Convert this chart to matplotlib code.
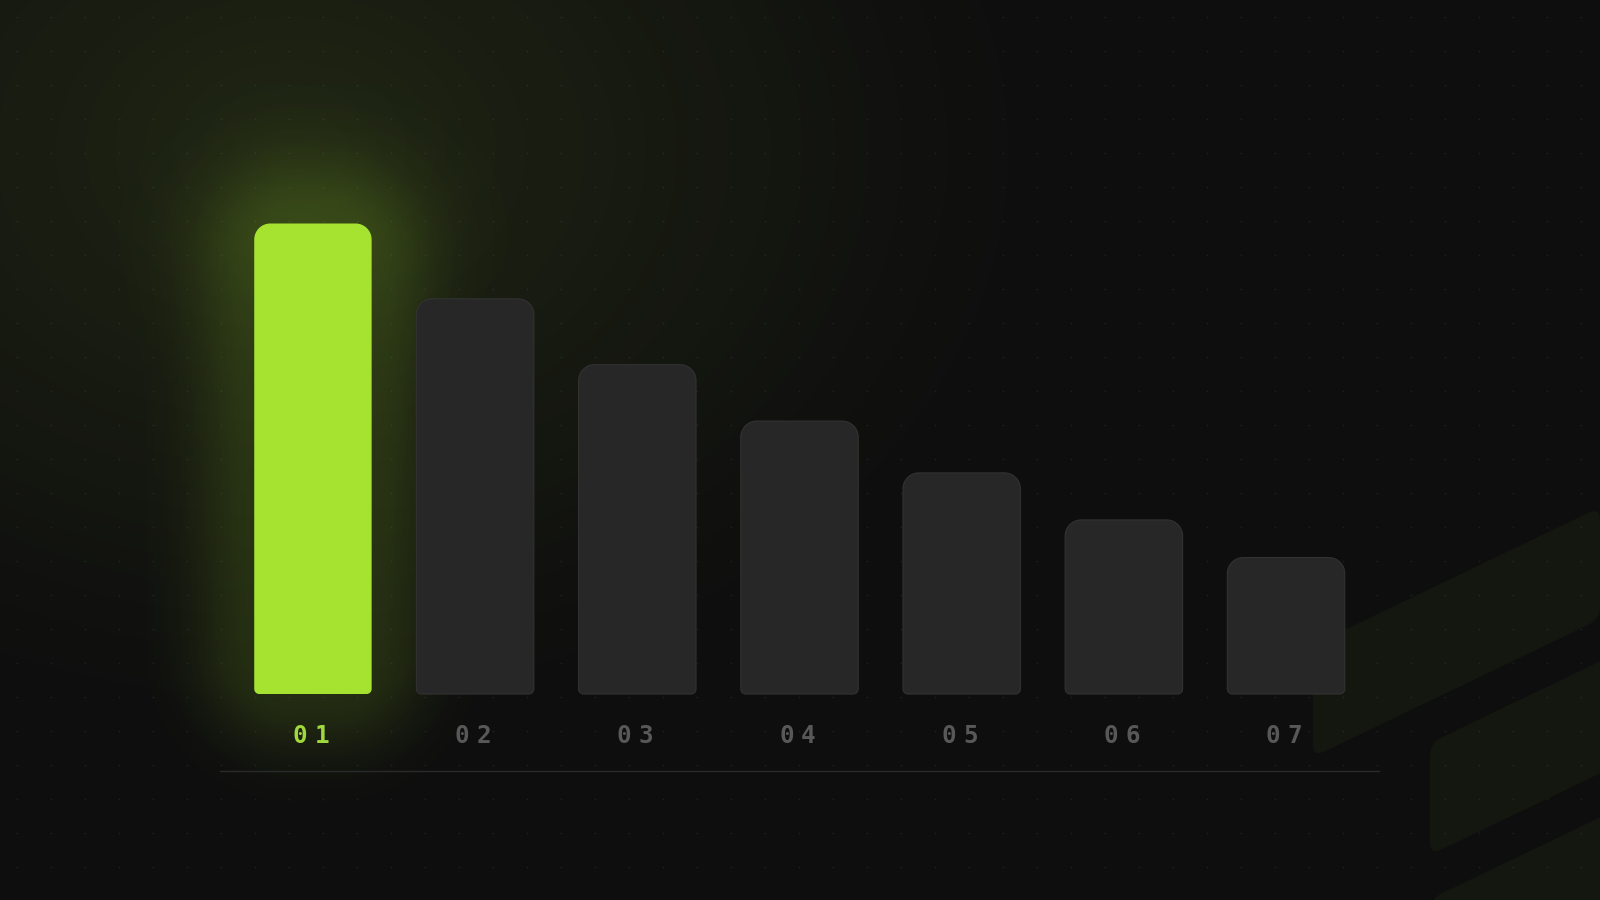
import numpy as np
import matplotlib
matplotlib.use('Agg')
import matplotlib.pyplot as plt
from matplotlib.path import Path
from matplotlib.patches import PathPatch, FancyBboxPatch
from matplotlib.transforms import Affine2D
from matplotlib.colors import to_rgb

# data
labels = ['01', '02', '03', '04', '05', '06', '07']
values = [100, 84, 70, 58, 47, 37, 29]
highlight = 0

# colours
BG = np.array([14, 14, 14])
LIME = '#a6e331'
GLOW = '#94cf2a'
LIME_TXT = '#a0d93c'
BAR_GREY = '#272727'
BAR_EDGE = '#323232'
LABEL_GREY = '#585858'
STRIPE = '#14170f'

W, H = 1600, 900
fig = plt.figure(figsize=(16, 9), dpi=100)

# ---- background: ambient green glow, stripes, dot grid
bg = fig.add_axes([0, 0, 1, 1])
bg.set_xlim(0, W)
bg.set_ylim(H, 0)
bg.axis('off')

yy, xx = np.mgrid[0:H, 0:W]
r = np.sqrt(((xx - 290) / 760.0) ** 2 + ((yy - 150) / 580.0) ** 2)
w = np.clip(1 - r, 0, 1) ** 1.1
tint = np.array([18, 24, 6])
img = BG[None, None, :] + w[..., None] * tint[None, None, :]
bg.imshow(img.astype(np.uint8), extent=(0, W, H, 0), zorder=0, interpolation='bilinear')

# skewed rounded stripes in the lower right corner
for x0, y0, x1 in [(1313, 645, 1600), (1430, 743, 1700), (1430, 899, 1700)]:
    skew = Affine2D([[1, 0, 0], [-0.48, 1, 0.48 * x0], [0, 0, 1]])
    p = FancyBboxPatch((x0, y0), x1 - x0, 112,
                       boxstyle='round,pad=0,rounding_size=12',
                       fc=STRIPE, ec='none', zorder=1,
                       transform=skew + bg.transData)
    bg.add_patch(p)

gx, gy = np.meshgrid(np.arange(17, W, 34), np.arange(17, H, 34))
bg.scatter(gx.ravel(), gy.ravel(), s=1.6, c='white', alpha=0.07,
           linewidths=0, zorder=2)

# ---- chart
ax_left, ax_bot, ax_w, ax_h = 220 / W, 1 - 771 / H, 1159 / W, (771 - 150) / H
ax = fig.add_axes([ax_left, ax_bot, ax_w, ax_h])
ax.patch.set_alpha(0)
xmin, xmax = -0.573, 6.573
px_per_unit = 4.705
ymin, ymax = -(771 - 694) / px_per_unit, (694 - 150) / px_per_unit
for s in ['top', 'right', 'left']:
    ax.spines[s].set_visible(False)
ax.spines['bottom'].set_color('#2a2a2a')
ax.spines['bottom'].set_linewidth(1.0)

sx = ax_w * W / (xmax - xmin)   # px per x unit
sy = ax_h * H / (ymax - ymin)   # px per y unit


def rounded_bar(x0, y0, x1, y1, rt, rb):
    k = 0.5523
    rxt, ryt = rt / sx, rt / sy
    rxb, ryb = rb / sx, rb / sy
    verts = [
        (x0 + rxb, y0), (x1 - rxb, y0),
        (x1 - rxb + k * rxb, y0), (x1, y0 + ryb - k * ryb), (x1, y0 + ryb),
        (x1, y1 - ryt),
        (x1, y1 - ryt + k * ryt), (x1 - rxt + k * rxt, y1), (x1 - rxt, y1),
        (x0 + rxt, y1),
        (x0 + rxt - k * rxt, y1), (x0, y1 - ryt + k * ryt), (x0, y1 - ryt),
        (x0, y0 + ryb),
        (x0, y0 + ryb - k * ryb), (x0 + rxb - k * rxb, y0), (x0 + rxb, y0),
        (x0 + rxb, y0),
    ]
    codes = [Path.MOVETO, Path.LINETO] + [Path.CURVE4] * 3 + [Path.LINETO] + \
            [Path.CURVE4] * 3 + [Path.LINETO] + [Path.CURVE4] * 3 + \
            [Path.LINETO] + [Path.CURVE4] * 3 + [Path.CLOSEPOLY]
    return Path(verts, codes)


def glow(x0, x1, top, reach=140, sigma=44, peak=0.16, rad=40):
    # soft shadow around a bar (rounded-rect distance), in data space
    gxs = np.linspace(x0 - reach / sx, x1 + reach / sx, 280)
    gys = np.linspace(-reach / sy, top + reach / sy, 420)
    X, Y = np.meshgrid(gxs, gys)
    cx, cy = (x0 + x1) / 2, top / 2
    hx = (x1 - x0) / 2 * sx - rad
    hy = top / 2 * sy - rad
    qx = np.maximum(np.abs(X - cx) * sx - hx, 0)
    qy = np.maximum(np.abs(Y - cy) * sy - hy, 0)
    d = np.maximum(np.hypot(qx, qy) - rad, 0)
    a = peak * np.exp(-0.5 * (d / sigma) ** 2)
    # extra halo just above the top of the bar
    hdx = (X - cx) * sx
    hdy = (Y - top) * sy
    a += 0.07 * np.exp(-0.5 * ((hdx / 90) ** 2 + (hdy / 70) ** 2))
    rgba = np.zeros(X.shape + (4,))
    rgba[..., :3] = to_rgb(GLOW)
    rgba[..., 3] = np.clip(a, 0, 1)
    ax.imshow(rgba, extent=(gxs[0], gxs[-1], gys[0], gys[-1]), origin='lower',
              aspect='auto', interpolation='bilinear', zorder=2, clip_on=False)


bar_w = 0.724
r_top, r_bot = 16, 5
for i, (lab, v) in enumerate(zip(labels, values)):
    x0, x1 = i - bar_w / 2, i + bar_w / 2
    if i == highlight:
        glow(x0, x1, v)
        ax.add_patch(PathPatch(rounded_bar(x0, 0, x1, v, r_top, r_bot),
                               fc=LIME, ec='none', zorder=3))
        col = LIME_TXT
    else:
        ax.add_patch(PathPatch(rounded_bar(x0, 0, x1, v, r_top, r_bot),
                               fc=BAR_GREY, ec=BAR_EDGE, lw=0.8, zorder=3))
        col = LABEL_GREY
    # letter-spaced label, one glyph at a time
    pitch = 15.8
    for k, ch in enumerate(lab):
        off = (k - (len(lab) - 1) / 2) * pitch - 1.5
        ax.annotate(ch, (i, 0), xytext=(off, -35), textcoords='offset points',
                    ha='center', va='baseline', fontsize=17.5,
                    family='DejaVu Sans Mono', fontweight='bold', color=col,
                    annotation_clip=False)

ax.set_xlim(xmin, xmax)
ax.set_ylim(ymin, ymax)
ax.set_xticks([])
ax.set_yticks([])

fig.savefig('out.png', dpi=100, facecolor='#0e0e0e')
